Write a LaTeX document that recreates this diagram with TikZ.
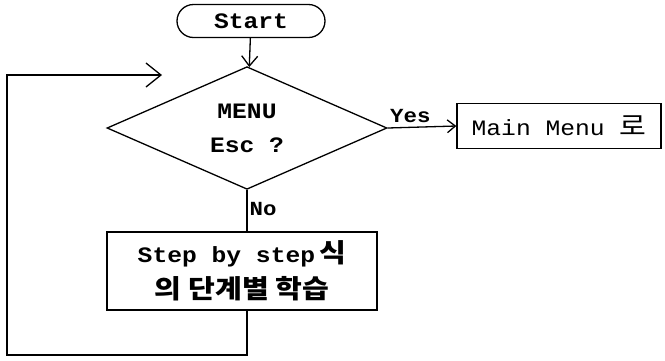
\documentclass[tikz,border=0pt]{standalone}
\usepackage{fontspec}
\newfontfamily\dosfont[FakeStretch=1.12]{Liberation Mono}
\newfontfamily\kofont[FakeStretch=1.12]{Noto Sans CJK KR}
\usetikzlibrary{arrows.meta,
                shapes.geometric,
                shapes.misc,
                positioning
                }
\newcommand\kobig{\kofont\fontsize{26}{30}\selectfont}

\begin{document}
\begin{tikzpicture}[x=1pt, y=-1pt,
    line width = 1.3pt,
    TX/.style = {font=\dosfont\fontsize{22}{26}\selectfont\bfseries},
    TM/.style = {draw, rounded rectangle, TX,
                 minimum width=148pt, minimum height=33pt, inner sep=0pt},
    DC/.style = {draw, diamond, TX, align=center,
                 minimum width=280pt, minimum height=117pt, inner sep=0pt},
    PB/.style = {draw, rectangle, TX, align=center,
                 minimum width=#1, inner sep=0pt},
  PB/.default = 270pt,
    AR/.style = {-{Straight Barb[length=#1, width=1.6*#1, line width=1.3pt]}},
  AR/.default = 10pt,
    LB/.style = {font=\dosfont\fontsize{20}{24}\selectfont\bfseries, inner sep=2pt},
                        ]
\useasboundingbox (0,0) rectangle (665,360);
% nodes
\node[TM] (start) at (251,21) {Start};
\node[DC] (menu)  at (247,128) {MENU\\[8pt]Esc ?};
\node[PB=204pt, minimum height=45pt,
      font=\dosfont\fontsize{22}{26}\selectfont]
            (main) at (559,126)
            {Main Menu {\kobig 로}};
\node[PB, minimum height=78pt]
            (step) at (242,271)
            {Step by step{\kobig\bfseries\,식}\\[8pt]
             {\kobig\bfseries 의 단계별 학습}};
\coordinate (back)   at (162,75);
\coordinate (corner) at (7,355);
% connectors
\draw[AR]   (start) -- (menu);
\draw[AR=8pt]   (menu.east) --
                    node[LB, above=2pt, pos=0.33] {Yes}
                (main.west);
\draw       (menu.south) --
                    node[LB, right, pos=0.45] {No}
                (menu.south |- step.north);
\draw[AR=15pt]  (step.south -| menu.south) |- (corner) |- (back);
\end{tikzpicture}
\end{document}
